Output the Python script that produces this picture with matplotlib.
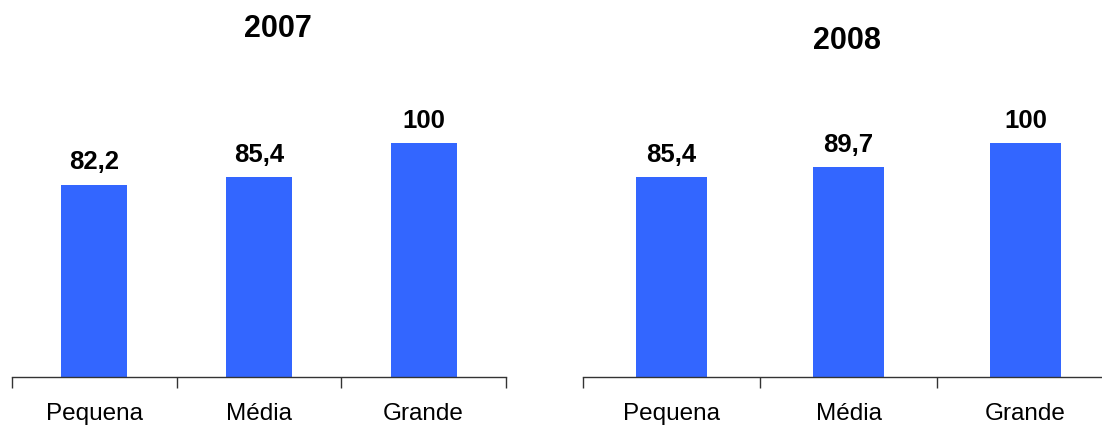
import matplotlib
matplotlib.use("Agg")
import matplotlib.pyplot as plt
from matplotlib.ticker import FixedLocator

plt.rcParams["font.family"] = ["Liberation Sans", "DejaVu Sans"]

categories = ["Pequena", "Média", "Grande"]
years = ["2007", "2008"]
values_2007 = [82.2, 85.4, 100]
values_2008 = [85.4, 89.7, 100]
labels_2007 = ["82,2", "85,4", "100"]
labels_2008 = ["85,4", "89,7", "100"]

W, H = 1102, 425
fig = plt.figure(figsize=(W / 100, H / 100), dpi=100)

bar_color = "#3366FF"


def px_axes(x0, x1, y_bottom, y_top):
    # pixel box (from top-left) -> figure fraction
    return [x0 / W, 1 - y_bottom / H, (x1 - x0) / W, (y_bottom - y_top) / H]


def draw_panel(ax, vals, labs):
    x = range(len(categories))
    ax.bar(x, vals, width=0.4, color=bar_color)
    ax.set_xlim(-0.5, 2.5)
    ax.set_ylim(0, 120)
    for s in ["top", "right", "left"]:
        ax.spines[s].set_visible(False)
    ax.spines["bottom"].set_color("#333333")
    ax.spines["bottom"].set_linewidth(1.0)
    ax.set_yticks([])
    ax.set_xticks(list(x))
    ax.set_xticklabels(categories, fontsize=17.5)
    ax.tick_params(axis="x", which="major", length=0, pad=19)
    ax.xaxis.set_minor_locator(FixedLocator([-0.5, 0.5, 1.5, 2.5]))
    ax.tick_params(axis="x", which="minor", length=8, width=1.0, color="#333333")
    for xi, v, t in zip(x, vals, labs):
        ax.annotate(t, (xi, v), xytext=(0, 11), textcoords="offset points",
                    ha="center", va="baseline", fontsize=18.5, fontweight="bold")


ax1 = fig.add_axes(px_axes(12, 506, 377, 96))
draw_panel(ax1, values_2007, labels_2007)

ax2 = fig.add_axes(px_axes(583, 1114, 377, 96))
draw_panel(ax2, values_2008, labels_2008)

fig.text(278 / W, 1 - 29 / H, years[0], ha="center", va="center",
         fontsize=22, fontweight="bold")
fig.text(847 / W, 1 - 41 / H, years[1], ha="center", va="center",
         fontsize=22, fontweight="bold")

fig.savefig("out.png", dpi=100)
